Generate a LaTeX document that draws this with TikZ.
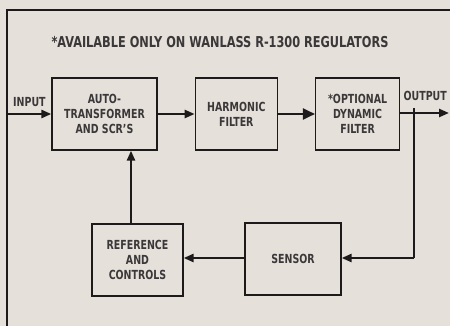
\documentclass[tikz,border=0pt]{standalone}
\usepackage{fontspec}
\setmainfont[FakeStretch=0.84]{DejaVu Sans Condensed}
\usepackage{xcolor}
\usetikzlibrary{arrows.meta, positioning}
\definecolor{paper}{HTML}{E6E0DB}
\definecolor{ink}{HTML}{1C1A1A}
\definecolor{print}{HTML}{3A3838}

\begin{document}
\begin{tikzpicture}[
    x=1pt, y=-1pt,
    font=\fontsize{12.5}{15}\selectfont\bfseries,
    node distance=36pt and 37pt,
    block/.style={draw=ink, line width=1.3pt, minimum height=72pt, align=center, text=print, inner sep=2pt},
    label/.style={text=print, inner sep=0pt},
    wire/.style={ink, line width=2.4pt},
    arrow/.style={wire, -{Triangle[length=10pt, width=8pt]}},
    bigarrow/.style={wire, -{Triangle[length=12pt, width=11pt]}}
]
% Paper and frame
\fill[paper] (0,0) rectangle (450,326);
\useasboundingbox (0,0) rectangle (450,326);
\draw[ink, line width=2.6pt] (7,330) -- (7,10) -- (455,10);

% Note
\node[label, font=\fontsize{15}{17}\selectfont\bfseries] (note) at (220,42) {*AVAILABLE ONLY ON WANLASS R-1300 REGULATORS};

% Top path
\node[block, minimum width=105pt] (auto) at (104.5,114) {AUTO-\\TRANSFORMER\\AND SCR'S};
\node[block, minimum width=82pt, right=of auto] (harm) {HARMONIC\\FILTER};
\node[block, minimum width=84pt, right=of harm] (dyn) {*OPTIONAL\\DYNAMIC\\FILTER};

% Bottom path
\node[block, minimum width=96pt] (sensor) at (293,259) {SENSOR};
\node[block, minimum width=91pt] (ref) at (137.5,260) {REFERENCE\\AND\\CONTROLS};

% Input and output
\coordinate (in) at (7,114);
\coordinate (out) at (449,113);
\coordinate (tap) at (414,113);
\coordinate (turn) at (414,258);
\node[label, above right=7pt and 6pt of in] (in-label) {INPUT};
\node[label, left=2pt of out, yshift=17pt] (out-label) {OUTPUT};

% Connectors
\draw[arrow] (in) -- (auto.west |- in);
\draw[arrow] (auto) -- (harm);
\draw[bigarrow] (harm) -- (dyn);
\draw[arrow] (dyn.east |- out) -- (out);
\draw[wire] ([yshift=5pt]tap) -- (turn);
\draw[arrow] (turn) -- (sensor.east |- turn);
\draw[arrow] (sensor.west |- turn) -- (ref.east |- turn);
\draw[arrow] ([xshift=-6.5pt]ref.north) -- ([xshift=-6.5pt]ref.north |- auto.south);
\end{tikzpicture}
\end{document}
